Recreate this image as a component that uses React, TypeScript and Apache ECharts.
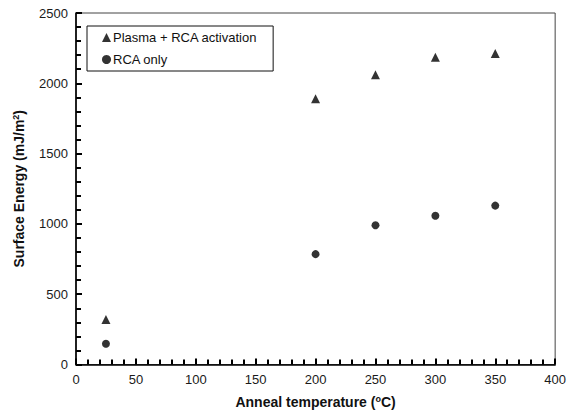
import React, { useEffect, useRef } from "react";
import * as echarts from "echarts";

const temperatures = [25, 200, 250, 300, 350];
const plasmaRca = [320, 1890, 2060, 2185, 2212];
const rcaOnly = [148, 785, 990, 1058, 1130];
const seriesNames = ["Plasma + RCA activation", "RCA only"];

const FONT = "Liberation Sans, Arial, sans-serif";

export default function App() {
  const ref = useRef<HTMLDivElement>(null);
  useEffect(() => {
    if (!ref.current) return;
    const chart = echarts.init(ref.current, null, { renderer: "svg" });
    const titleStyle = {
      fontSize: 14,
      fontWeight: "bold",
      fontFamily: FONT,
      color: "#111",
      rich: {
        sup: { fontSize: 9, fontWeight: "bold", verticalAlign: "top", padding: [0, 0, 6, 0], fontFamily: FONT, color: "#111" },
      },
    };
    const tickStyle = { color: "#000", width: 2 };
    chart.setOption({
      animation: false,
      grid: {
        left: 76,
        right: 10,
        top: 13,
        bottom: 46,
        show: true,
        borderColor: "#444",
        borderWidth: 1,
      },
      legend: {
        show: true,
        orient: "vertical",
        left: 87,
        top: 26,
        data: [
          { name: seriesNames[0], icon: "triangle" },
          { name: seriesNames[1], icon: "circle" },
        ],
        itemWidth: 9,
        itemHeight: 9,
        itemGap: 9,
        borderColor: "#111",
        borderWidth: 1,
        borderRadius: 0,
        padding: [5, 16, 5, 15],
        textStyle: { fontSize: 13, fontFamily: FONT, color: "#111", padding: [0, 0, 0, -3] },
      },
      xAxis: {
        type: "value",
        min: 0,
        max: 400,
        interval: 50,
        name: "Anneal temperature ({sup|o}C)",
        nameLocation: "middle",
        nameGap: 30,
        nameTextStyle: titleStyle,
        axisLine: { show: true, lineStyle: { color: "#000", width: 1.6 } },
        axisTick: { show: true, inside: true, length: 6, lineStyle: tickStyle },
        minorTick: { show: true, splitNumber: 5, length: 5, lineStyle: tickStyle },
        splitLine: { show: false },
        axisLabel: { color: "#1a1a1a", fontSize: 13, fontFamily: FONT, formatter: (v: number) => String(v) },
      },
      yAxis: {
        type: "value",
        min: 0,
        max: 2500,
        interval: 500,
        name: "Surface Energy (mJ/m{sup|2})",
        nameLocation: "middle",
        nameGap: 50,
        nameTextStyle: titleStyle,
        axisLine: { show: true, lineStyle: { color: "#000", width: 1.6 } },
        axisTick: { show: true, inside: true, length: 6, lineStyle: tickStyle },
        minorTick: { show: true, splitNumber: 5, length: 5, lineStyle: tickStyle },
        splitLine: { show: false },
        axisLabel: { color: "#1a1a1a", fontSize: 13, fontFamily: FONT, formatter: (v: number) => String(v) },
      },
      series: [
        {
          name: seriesNames[0],
          type: "scatter",
          symbol: "triangle",
          symbolSize: 9,
          itemStyle: { color: "#000" },
          data: temperatures.map((t, i) => [t, plasmaRca[i]]),
        },
        {
          name: seriesNames[1],
          type: "scatter",
          symbol: "circle",
          symbolSize: 8,
          itemStyle: { color: "#000" },
          data: temperatures.map((t, i) => [t, rcaOnly[i]]),
        },
      ],
    });
    return () => chart.dispose();
  }, []);
  return <div ref={ref} style={{ width: 569, height: 414, position: "absolute", left: 0, top: 0 }} />;
}
